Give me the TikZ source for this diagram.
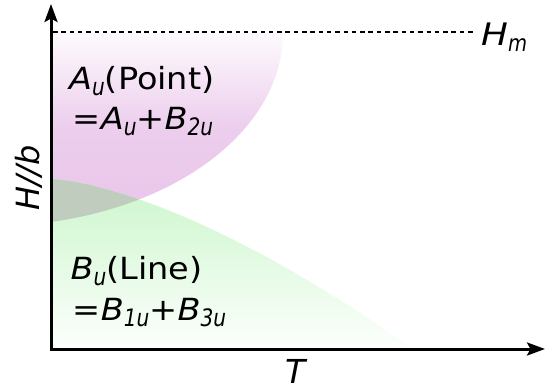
\documentclass[tikz,border=0pt]{standalone}
\usepackage{fontspec}
\setmainfont{DejaVu Sans}
\usepackage{graphicx}
\usetikzlibrary{arrows.meta}
\definecolor{pur}{RGB}{233,197,234}
\definecolor{grn}{RGB}{203,246,203}
\definecolor{ovl}{RGB}{192,204,190}
\newcommand\sbs[1]{\raisebox{-6pt}{\scalebox{0.84}[1]{\fontsize{24}{24}\selectfont\itshape #1}}}
\newcommand\wid[1]{\scalebox{1.1}[1]{#1}}
\tikzset{
  axis/.style={line width=3pt, {Stealth[length=18pt,width=13pt,inset=3.5pt]}-{Stealth[length=18pt,width=13pt,inset=3.5pt]}},
  hmline/.style={line width=2pt, dash pattern=on 4.5pt off 3.8pt},
  lbl/.style={anchor=base west, inner sep=0pt, font=\fontsize{30.5}{32}\selectfont},
  axlbl/.style={inner sep=0pt, font=\fontsize{33}{36}\selectfont\itshape},
}
\begin{document}
\begin{tikzpicture}[x=1pt,y=-1pt]
\useasboundingbox (0,0) rectangle (554,390);
% purple region
\path[top color=pur!8!white, bottom color=pur, middle color=pur!85!white]
  (51,33) -- plot[domain=0:78.14,samples=60] ({-9+292*cos(\x)},{33+193.1*sin(\x)}) -- cycle;
% green region
\path[top color=grn, bottom color=grn!5!white]
  (51,348) -- plot[domain=0:1,samples=60] ({51+361*\x},{179+169*\x*sqrt(\x)}) -- cycle;
% overlap
\begin{scope}
  \clip (51,33) -- plot[domain=0:78.14,samples=60] ({-9+292*cos(\x)},{33+193.1*sin(\x)}) -- cycle;
  \fill[ovl] (51,348) -- plot[domain=0:1,samples=60] ({51+361*\x},{179+169*\x*sqrt(\x)}) -- cycle;
\end{scope}
% axes
\coordinate (O) at (51,349);
\coordinate (ytip) at (51,4);
\coordinate (xtip) at (545,349);
\draw[axis] (ytip) -- (O) -- (xtip);
% Hm line
\coordinate (hmstart) at (53,32.5);
\node[anchor=base west, inner sep=0pt, font=\fontsize{31}{33}\selectfont] (hm) at (481,45.7) {\scalebox{1.15}[1]{\textit{H}}\raisebox{-6pt}{\scalebox{0.85}[1]{\fontsize{23}{23}\selectfont\itshape m}}};
\coordinate (hmend) at (475,32.5);
\draw[hmline] (hmstart) -- (hmend);
% labels
\node[lbl] (pt1) at (69,89.5) {\wid{\textit{A}}\sbs{u}\wid{(Point)}};
\node[lbl] (pt2) at (72.5,130) {\wid{=\textit{A}}\sbs{u}\wid{+\textit{B}}\sbs{2u}};
\node[lbl] (ln1) at (70.5,279.5) {\wid{\textit{B}}\sbs{u}\wid{(Line)}};
\node[lbl] (ln2) at (72.5,320) {\wid{=\textit{B}}\sbs{1u}\wid{+\textit{B}}\sbs{3u}};
\node[axlbl, anchor=base west] (tl) at (285,383) {T};
\node[axlbl, rotate=90, font=\fontsize{32}{34}\selectfont\itshape] (hl) at (28.5,178) {H//b};
\end{tikzpicture}
\end{document}
